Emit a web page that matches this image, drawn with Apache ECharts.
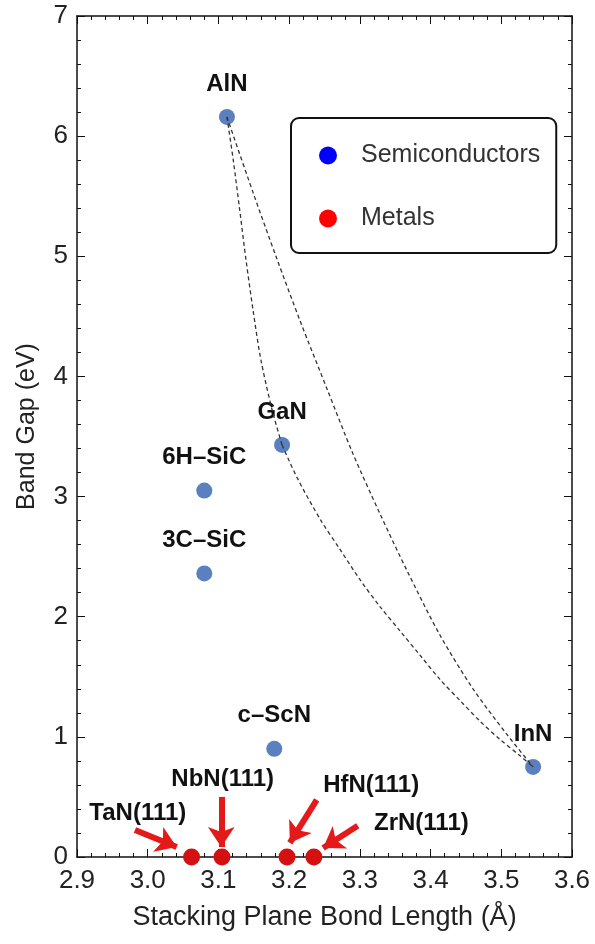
<!DOCTYPE html>
<html>
<head>
<meta charset="utf-8">
<script src="https://cdn.jsdelivr.net/npm/echarts@6/dist/echarts.min.js"></script>
<style>
html,body{margin:0;padding:0;background:#fff;}
#c{width:595px;height:944px;}
</style>
</head>
<body>
<div id="c"></div>
<script>
// ---- data ----
const semiNames = ['AlN', 'GaN', '6H–SiC', '3C–SiC', 'c–ScN', 'InN'];
const semiX = [3.112, 3.190, 3.080, 3.080, 3.179, 3.545];
const semiY = [6.16, 3.43, 3.05, 2.36, 0.90, 0.75];

const metalNames = ['TaN(111)', 'NbN(111)', 'HfN(111)', 'ZrN(111)'];
const metalX = [3.062, 3.105, 3.197, 3.235];
const metalY = [0, 0, 0, 0];

// label anchor positions for metal annotations (data units)
const metalLabelX = [2.986, 3.106, 3.316, 3.387];
const metalLabelY = [0.366, 0.649, 0.600, 0.283];
// arrow tails and tips (data units)
const arrowFromX = [2.982, 3.104, 3.239, 3.297];
const arrowFromY = [0.225, 0.500, 0.475, 0.260];
const arrowToX = [3.041, 3.104, 3.201, 3.248];
const arrowToY = [0.083, 0.083, 0.117, 0.075];

// dashed bowing curves
const alganX = [3.112, 3.121, 3.130, 3.139, 3.149, 3.160, 3.176, 3.190];
const alganY = [6.16, 5.80, 5.39, 4.97, 4.55, 4.14, 3.72, 3.43];
const inganX = [3.190, 3.211, 3.244, 3.272, 3.300, 3.329, 3.357, 3.385, 3.413, 3.442, 3.470, 3.498, 3.527, 3.545];
const inganY = [3.43, 3.16, 2.81, 2.56, 2.31, 2.08, 1.88, 1.68, 1.48, 1.30, 1.13, 0.98, 0.84, 0.75];
const alinnX = [3.112, 3.149, 3.182, 3.215, 3.254, 3.290, 3.329, 3.367, 3.413, 3.460, 3.508, 3.545];
const alinnY = [6.16, 5.53, 4.99, 4.47, 3.89, 3.36, 2.85, 2.38, 1.85, 1.40, 1.02, 0.75];

const xTicks = {min: 2.9, max: 3.6, interval: 0.1};
const yTicks = {min: 0, max: 7, interval: 1};

// ---- chart ----
const FONT = "'Liberation Sans', Arial, sans-serif";
const chart = echarts.init(document.getElementById('c'), null, {renderer: 'canvas'});

const zip = (a, b) => a.map((v, i) => [v, b[i]]);

const axisCommon = {
  axisLine: {show: true, onZero: false, lineStyle: {color: '#111', width: 1.5}},
  axisTick: {show: true, inside: true, length: 8, lineStyle: {color: '#111', width: 1}},
  minorTick: {show: true, splitNumber: 5, length: 4, lineStyle: {color: '#111', width: 1}},
  splitLine: {show: false}
};

const dashed = {color: '#333', width: 1.3, type: [4, 3]};

const option = {
  animation: false,
  backgroundColor: '#fff',
  grid: {left: 77, right: 23, top: 16, bottom: 87, containLabel: false},
  legend: {
    data: [
      {name: 'Semiconductors', itemStyle: {color: '#0000ff'}},
      {name: 'Metals', itemStyle: {color: '#ff0000'}}
    ],
    orient: 'vertical',
    left: 291, top: 118,
    padding: [25, 16, 22, 28],
    itemWidth: 56, itemHeight: 18, itemGap: 38,
    symbolKeepAspect: true,
    icon: 'circle',
    borderColor: '#111', borderWidth: 2, borderRadius: 8,
    backgroundColor: '#fff',
    textStyle: {fontFamily: FONT, fontSize: 25, color: '#333', lineHeight: 25}
  },
  xAxis: [
    Object.assign({
      type: 'value', position: 'bottom',
      min: xTicks.min, max: xTicks.max, interval: xTicks.interval,
      name: 'Stacking Plane Bond Length (Å)', nameLocation: 'middle', nameGap: 47,
      nameTextStyle: {fontFamily: FONT, fontSize: 27, color: '#222'},
      axisLabel: {margin: 11, fontFamily: FONT, fontSize: 26, color: '#222',
        formatter: v => v.toFixed(1)}
    }, axisCommon),
    Object.assign({
      type: 'value', position: 'top',
      min: xTicks.min, max: xTicks.max, interval: xTicks.interval,
      axisLabel: {show: false}
    }, axisCommon)
  ],
  yAxis: [
    Object.assign({
      type: 'value', position: 'left',
      min: yTicks.min, max: yTicks.max, interval: yTicks.interval,
      name: 'Band Gap (eV)', nameLocation: 'middle', nameGap: 37,
      nameTextStyle: {fontFamily: FONT, fontSize: 25, color: '#222', padding: [0, 0, 0, 20]},
      axisLabel: {margin: 9, fontFamily: FONT, fontSize: 26, color: '#222'}
    }, axisCommon),
    Object.assign({
      type: 'value', position: 'right',
      min: yTicks.min, max: yTicks.max, interval: yTicks.interval,
      axisLabel: {show: false}
    }, axisCommon)
  ],
  series: [
    {
      name: 'Semiconductors', type: 'scatter', xAxisIndex: 0, yAxisIndex: 0,
      symbolSize: 16, z: 3,
      itemStyle: {color: '#5a80bf', opacity: 1},
      data: semiNames.map((n, i) => ({name: n, value: [semiX[i], semiY[i]]})),
      label: {show: true, position: 'top', distance: 13, formatter: '{b}',
        fontFamily: FONT, fontSize: 24, fontWeight: 'bold', color: '#111', lineHeight: 24}
    },
    {
      name: 'Metals', type: 'scatter', xAxisIndex: 0, yAxisIndex: 0,
      symbolSize: 17, z: 3,
      itemStyle: {color: '#d41010', opacity: 1},
      data: metalNames.map((n, i) => ({name: n, value: [metalX[i], metalY[i]]})),
      markLine: {
        silent: true,
        symbol: ['none', 'arrow'],
        symbolSize: 20,
        label: {show: false},
        lineStyle: {color: '#e41a1a', width: 6, type: 'solid', opacity: 1},
        itemStyle: {color: '#e41a1a'},
        emphasis: {disabled: true},
        data: arrowFromX.map((x, i) => [
          {coord: [x, arrowFromY[i]]},
          {coord: [arrowToX[i], arrowToY[i]]}
        ])
      }
    },
    {
      name: 'metalLabels', type: 'scatter', xAxisIndex: 0, yAxisIndex: 0,
      symbolSize: 0, silent: true, z: 4,
      itemStyle: {opacity: 1},
      data: metalNames.map((n, i) => ({name: n, value: [metalLabelX[i], metalLabelY[i]]})),
      label: {show: true, position: 'inside', formatter: '{b}', opacity: 1,
        fontFamily: FONT, fontSize: 24, fontWeight: 'bold', color: '#111'}
    },
    {
      name: 'AlGaN', type: 'line', xAxisIndex: 0, yAxisIndex: 0,
      showSymbol: false, smooth: 0.3, silent: true, z: 5,
      lineStyle: dashed, data: zip(alganX, alganY)
    },
    {
      name: 'InGaN', type: 'line', xAxisIndex: 0, yAxisIndex: 0,
      showSymbol: false, smooth: 0.3, silent: true, z: 5,
      lineStyle: dashed, data: zip(inganX, inganY)
    },
    {
      name: 'AlInN', type: 'line', xAxisIndex: 0, yAxisIndex: 0,
      showSymbol: false, smooth: 0.3, silent: true, z: 5,
      lineStyle: dashed, data: zip(alinnX, alinnY)
    }
  ]
};
chart.setOption(option);
</script>
</body>
</html>
